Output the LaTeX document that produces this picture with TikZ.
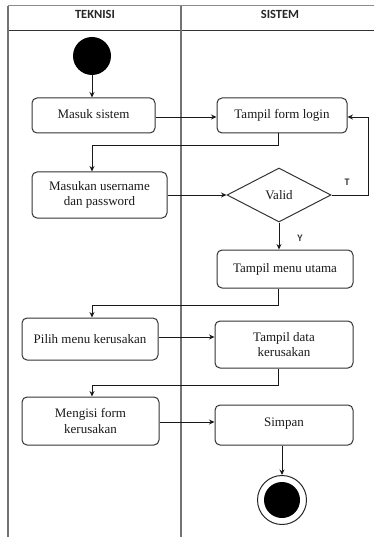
\documentclass[tikz,border=0pt]{standalone}
\usepackage{fontspec}
\setmainfont{Liberation Serif}
\newfontfamily\hdrfont{Carlito}
\usetikzlibrary{shapes.geometric,arrows.meta}
\begin{document}
\begin{tikzpicture}[x=1pt,y=-1pt,
  lane/.style={draw=black!55,line width=1.3pt},
  act/.style={draw=black!80,line width=1pt,rounded corners=5pt,font=\fontsize{13}{15.5}\selectfont,align=center,inner sep=0pt,text=black!90},
  flow/.style={draw=black!90,line width=0.9pt,-{Stealth[length=5.5pt,width=5pt]}},
  hdr/.style={font=\hdrfont\bfseries\fontsize{12.5}{14}\selectfont,text=black!85},
  lbl/.style={font=\hdrfont\bfseries\fontsize{10}{12}\selectfont,text=black!80}]
\useasboundingbox (0,0) rectangle (374,537);
% swimlanes
\draw[draw=black!45,line width=1pt] (8,6) -- (374,6);
\draw[draw=black!80,line width=1.1pt] (8,30.5) -- (374,30.5);
\draw[lane] (8,6) -- (8,537);
\draw[lane] (181,6) -- (181,537);
\node[hdr] (h1) at (95,14.5) {TEKNISI};
\node[hdr] (h2) at (280,14.5) {SISTEM};
% nodes
\node[circle,fill=black,minimum size=38pt,inner sep=0pt] (start) at (92,56) {};
\node[act,minimum width=123pt,minimum height=35pt] (masuk) at (93.5,115.5) {\raisebox{2.5pt}{Masuk sistem}};
\node[act,minimum width=130pt,minimum height=35pt] (form) at (282,115.5) {Tampil form login};
\node[act,minimum width=135pt,minimum height=46pt] (user) at (99.5,195) {Masukan username\\dan password};
\node[diamond,draw=black!80,line width=1pt,minimum width=104pt,minimum height=54pt,aspect=1.93,inner sep=0pt,font=\fontsize{13}{15.5}\selectfont,text=black!90] (valid) at (279,195) {Valid};
\node[act,minimum width=136pt,minimum height=38pt] (menu) at (285,269) {Tampil menu utama};
\node[act,minimum width=136pt,minimum height=42pt] (pilih) at (90,339) {Pilih menu kerusakan};
\node[act,minimum width=138pt,minimum height=47pt] (data) at (284,344.5) {Tampil data\\kerusakan};
\node[act,minimum width=137pt,minimum height=48pt] (isi) at (90.5,421) {Mengisi form\\kerusakan};
\node[act,minimum width=138pt,minimum height=40pt] (simpan) at (284,425) {\raisebox{5pt}{Simpan}};
\node[circle,draw=black!85,line width=1pt,minimum size=49pt,inner sep=0pt] (end) at (282,500) {};
\node[circle,fill=black,minimum size=36pt,inner sep=0pt] (endin) at (282,500) {};
\node[lbl] (lt) at (347,182) {T};
\node[lbl] (ly) at (300,238) {Y};
% coordinates
\coordinate (c1) at (278,145);
\coordinate (c2) at (92,145);
\coordinate (c3) at (368,195);
\coordinate (c4) at (368,117);
\coordinate (c5) at (278,305);
\coordinate (c6) at (92,305);
\coordinate (c7) at (278,385);
\coordinate (c8) at (92,385);
% flows
\draw[flow] (start) -- (masuk.north -| start);
\draw[flow] (masuk.east |- 0,117) -- (form.west |- 0,117);
\draw[flow] (form.south -| c1) -- (c1) -- (c2) -- (user.north -| c2);
\draw[flow] (user.east) -- (valid.west);
\draw[flow] (valid.east) -- (c3) -- (c4) -- (form.east |- c4);
\draw[flow] (valid.south) -- (menu.north -| valid.south);
\draw[flow] (menu.south -| c5) -- (c5) -- (c6) -- (pilih.north -| c6);
\draw[flow] (pilih.east |- 0,337) -- (data.west |- 0,337);
\draw[flow] (data.south -| c7) -- (c7) -- (c8) -- (isi.north -| c8);
\draw[flow] (isi.east |- 0,422) -- (simpan.west |- 0,422);
\draw[flow] (simpan.south -| end.north) -- (end.north);
\end{tikzpicture}
\end{document}
